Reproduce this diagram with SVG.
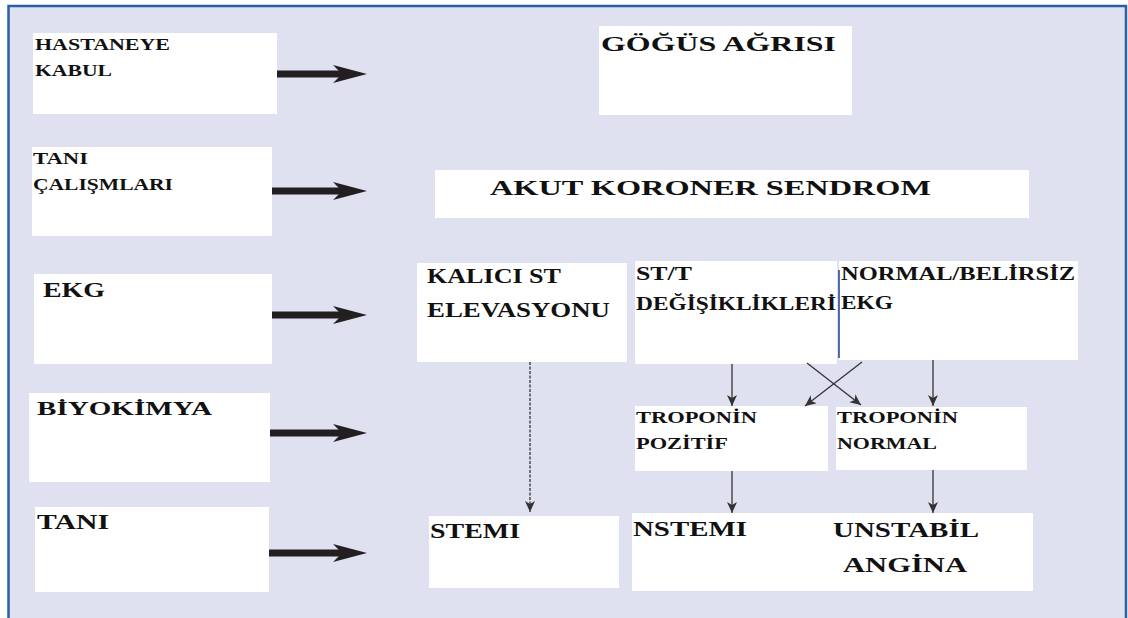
<svg xmlns="http://www.w3.org/2000/svg" width="1128" height="618" viewBox="0 0 1128 618">
<defs>
<style>
.bg{fill:#DFE1F0;stroke:#2B5EA8;stroke-width:2.5}
.box{fill:#FFFFFF}
.t{font-family:"Liberation Serif","Times New Roman",serif;font-weight:bold;fill:#111;}
.big{stroke:#231F20;stroke-width:7;fill:none}
.thin{stroke:#333;stroke-width:1.3;fill:none}
.dot{stroke:#333;stroke-width:1.3;fill:none;stroke-dasharray:3 1.5}
</style>
<marker id="bighead" markerUnits="userSpaceOnUse" markerWidth="36" markerHeight="20" refX="12" refY="9" orient="auto" viewBox="0 0 36 20">
<path d="M0,0 L34,9 L0,18 L9,9 Z" fill="#231F20"/>
</marker>
<marker id="head" markerUnits="userSpaceOnUse" markerWidth="14" markerHeight="12" refX="11" refY="5" orient="auto" viewBox="0 0 14 12">
<path d="M0,0 L11,5 L0,10 L3,5 Z" fill="#333"/>
</marker>
</defs>
<rect class="bg" x="8.5" y="6" width="1117.5" height="620"/>

<g id="n-hastaneye"><rect class="box" x="33" y="33" width="244" height="81"/>
<text class="t" x="35" y="50" font-size="16" textLength="135" lengthAdjust="spacingAndGlyphs">HASTANEYE</text>
<text class="t" x="35" y="76" font-size="16" textLength="77" lengthAdjust="spacingAndGlyphs">KABUL</text></g>
<g id="n-tanicalismalari"><rect class="box" x="32" y="147" width="240" height="89"/>
<text class="t" x="33" y="164" font-size="16" textLength="55" lengthAdjust="spacingAndGlyphs">TANI</text>
<text class="t" x="33" y="190" font-size="16" textLength="140" lengthAdjust="spacingAndGlyphs">ÇALIŞMLARI</text></g>
<g id="n-ekg"><rect class="box" x="34" y="274" width="238" height="90"/>
<text class="t" x="43" y="297" font-size="22" textLength="62" lengthAdjust="spacingAndGlyphs">EKG</text></g>
<g id="n-biyokimya"><rect class="box" x="29" y="393" width="241" height="89"/>
<text class="t" x="37" y="415" font-size="19" textLength="175" lengthAdjust="spacingAndGlyphs">BİYOKİMYA</text></g>
<g id="n-tani"><rect class="box" x="35" y="507" width="234" height="85"/>
<text class="t" x="37" y="529" font-size="21" textLength="72" lengthAdjust="spacingAndGlyphs">TANI</text></g>

<g id="n-gogus"><rect class="box" x="599" y="26" width="253" height="89"/>
<text class="t" x="601" y="51" font-size="22" textLength="235" lengthAdjust="spacingAndGlyphs">GÖĞÜS AĞRISI</text></g>
<g id="n-aks"><rect class="box" x="435" y="170" width="594" height="48"/>
<text class="t" x="490" y="195" font-size="22" textLength="441" lengthAdjust="spacingAndGlyphs">AKUT KORONER SENDROM</text></g>
<g id="n-kalici"><rect class="box" x="417" y="263" width="210" height="99"/>
<text class="t" x="427" y="283" font-size="20" textLength="134" lengthAdjust="spacingAndGlyphs">KALICI ST</text>
<text class="t" x="427" y="317" font-size="20" textLength="183" lengthAdjust="spacingAndGlyphs">ELEVASYONU</text></g>
<g id="n-stt"><rect class="box" x="635" y="261" width="202" height="103"/>
<text class="t" x="636" y="280" font-size="18" textLength="56" lengthAdjust="spacingAndGlyphs">ST/T</text>
<text class="t" x="636" y="310" font-size="18" textLength="200" lengthAdjust="spacingAndGlyphs">DEĞİŞİKLİKLERİ</text></g>
<g id="n-normal"><rect class="box" x="839" y="261" width="239" height="99"/>
<line x1="839" y1="270" x2="839" y2="358" stroke="#1F3F8F" stroke-width="1.5"/>
<text class="t" x="841" y="280" font-size="18" textLength="234" lengthAdjust="spacingAndGlyphs">NORMAL/BELİRSİZ</text>
<text class="t" x="841" y="309" font-size="18" textLength="52" lengthAdjust="spacingAndGlyphs">EKG</text></g>
<g id="n-tpoz"><rect class="box" x="635" y="406" width="193" height="65"/>
<text class="t" x="636" y="423" font-size="16" textLength="121" lengthAdjust="spacingAndGlyphs">TROPONİN</text>
<text class="t" x="636" y="449" font-size="16" textLength="92" lengthAdjust="spacingAndGlyphs">POZİTİF</text></g>
<g id="n-tnorm"><rect class="box" x="836" y="407" width="191" height="63"/>
<text class="t" x="837" y="423" font-size="16" textLength="121" lengthAdjust="spacingAndGlyphs">TROPONİN</text>
<text class="t" x="837" y="449" font-size="16" textLength="100" lengthAdjust="spacingAndGlyphs">NORMAL</text></g>
<g id="n-stemi"><rect class="box" x="429" y="516" width="190" height="72"/>
<text class="t" x="430" y="538" font-size="21" textLength="90" lengthAdjust="spacingAndGlyphs">STEMI</text></g>
<g id="n-nstemi"><rect class="box" x="632" y="513" width="200" height="78"/>
<text class="t" x="633" y="536" font-size="21" textLength="114" lengthAdjust="spacingAndGlyphs">NSTEMI</text></g>
<g id="n-unstabil"><rect class="box" x="830" y="513" width="203" height="78"/>
<text class="t" x="833" y="537" font-size="21" textLength="146" lengthAdjust="spacingAndGlyphs">UNSTABİL</text>
<text class="t" x="843" y="572" font-size="21" textLength="124" lengthAdjust="spacingAndGlyphs">ANGİNA</text></g>

<g id="connectors">
<line class="big" x1="277" y1="74" x2="345" y2="74" marker-end="url(#bighead)"/>
<line class="big" x1="272" y1="191" x2="345" y2="191" marker-end="url(#bighead)"/>
<line class="big" x1="272" y1="315" x2="345" y2="315" marker-end="url(#bighead)"/>
<line class="big" x1="270" y1="433" x2="345" y2="433" marker-end="url(#bighead)"/>
<line class="big" x1="269" y1="553" x2="345" y2="553" marker-end="url(#bighead)"/>
<line class="dot" x1="530" y1="362" x2="530" y2="512" marker-end="url(#head)"/>
<line class="thin" x1="732" y1="364" x2="732" y2="406" marker-end="url(#head)"/>
<line class="thin" x1="732" y1="471" x2="732" y2="513" marker-end="url(#head)"/>
<line class="thin" x1="807" y1="363" x2="861" y2="405" marker-end="url(#head)"/>
<line class="thin" x1="862" y1="362" x2="805" y2="406" marker-end="url(#head)"/>
<line class="thin" x1="933" y1="360" x2="933" y2="406" marker-end="url(#head)"/>
<line class="thin" x1="933" y1="470" x2="933" y2="513" marker-end="url(#head)"/>
</g>
</svg>
